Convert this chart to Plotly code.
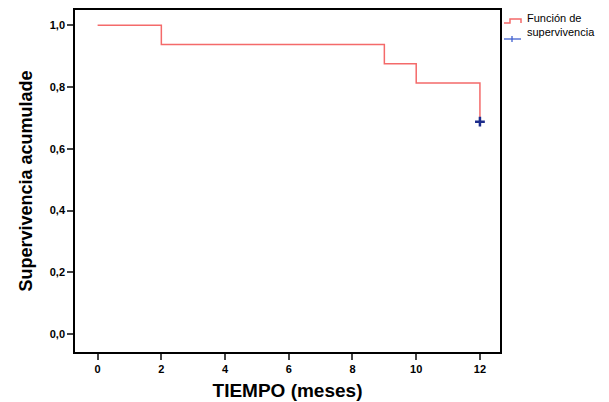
import plotly.graph_objects as go

# Kaplan-Meier steps
tiempo = [0, 2, 9, 10, 12]
superv = [1.0, 0.9375, 0.875, 0.8125, 0.6875]
cens_t = [12]
cens_s = [0.6875]
xticks = [0, 2, 4, 6, 8, 10, 12]
yticks = [0.0, 0.2, 0.4, 0.6, 0.8, 1.0]
ylabels = ["0,0", "0,2", "0,4", "0,6", "0,8", "1,0"]

# page body has an 8px margin, so the figure is drawn 8px smaller and shifted
OFF = 8
W, H = 609 - OFF, 402 - OFF
L, R, T, B = 75 - OFF, 109, 10 - OFF, 50
RED = "#f46a6a"
BLUE = "#1c2c8c"


def px(x):
    # screen pixel -> paper x
    return (x - OFF - L) / (W - L - R)


def py(y):
    return (H - B - (y - OFF)) / (H - T - B)


fig = go.Figure()
fig.add_trace(go.Scatter(
    x=tiempo, y=superv, mode="lines", line_shape="hv",
    line=dict(color=RED, width=1.5), showlegend=False))
fig.add_trace(go.Scatter(
    x=cens_t, y=cens_s, mode="markers", showlegend=False,
    marker=dict(symbol="cross-thin", size=7, line=dict(color=BLUE, width=2.5))))

# legend drawn by hand (step symbol + censor mark)
fig.add_shape(type="path", xref="paper", yref="paper",
              path="M %f,%f L %f,%f L %f,%f L %f,%f L %f,%f" % (
                  px(504), py(23), px(510), py(23), px(510), py(19),
                  px(521), py(19), px(521), py(23)),
              line=dict(color=RED, width=1.5))
fig.add_shape(type="line", xref="paper", yref="paper",
              x0=px(504), y0=py(39), x1=px(521), y1=py(39),
              line=dict(color="#4060d0", width=1.3))
fig.add_shape(type="line", xref="paper", yref="paper",
              x0=px(512), y0=py(36), x1=px(512), y1=py(42),
              line=dict(color="#4060d0", width=1.3))
fig.add_annotation(text="Función de<br>supervivencia", xref="paper", yref="paper",
                   x=px(525), y=py(10), xanchor="left", yanchor="top",
                   align="left", showarrow=False,
                   font=dict(size=11, color="black"))

fig.update_layout(
    width=W, height=H,
    margin=dict(l=L, r=R, t=T, b=B),
    plot_bgcolor="white", paper_bgcolor="white",
    font=dict(family="Liberation Sans, Arial", color="black"),
    showlegend=False,
)
fig.update_xaxes(
    range=[-0.71, 12.63], tickvals=xticks, ticks="outside", ticklen=6,
    tickwidth=1.5, showgrid=False, zeroline=False, automargin=False,
    showline=True, linecolor="black", linewidth=1.5, mirror=True,
    tickfont=dict(size=11),
    ticktext=["<b>%d</b>" % v for v in xticks],
    title=dict(text="<b>TIEMPO (meses)</b>", font=dict(size=19), standoff=10))
fig.update_yaxes(
    range=[-0.058, 1.049], tickvals=yticks,
    ticktext=["<b>%s</b>" % s for s in ylabels], ticks="outside",
    ticklen=6, tickwidth=1.5, showgrid=False, zeroline=False, automargin=False,
    showline=True, linecolor="black", linewidth=1.5, mirror=True,
    tickfont=dict(size=11),
    title=dict(text="<b>Supervivencia acumulade</b>", font=dict(size=18), standoff=12))

fig.write_html("out.html")
